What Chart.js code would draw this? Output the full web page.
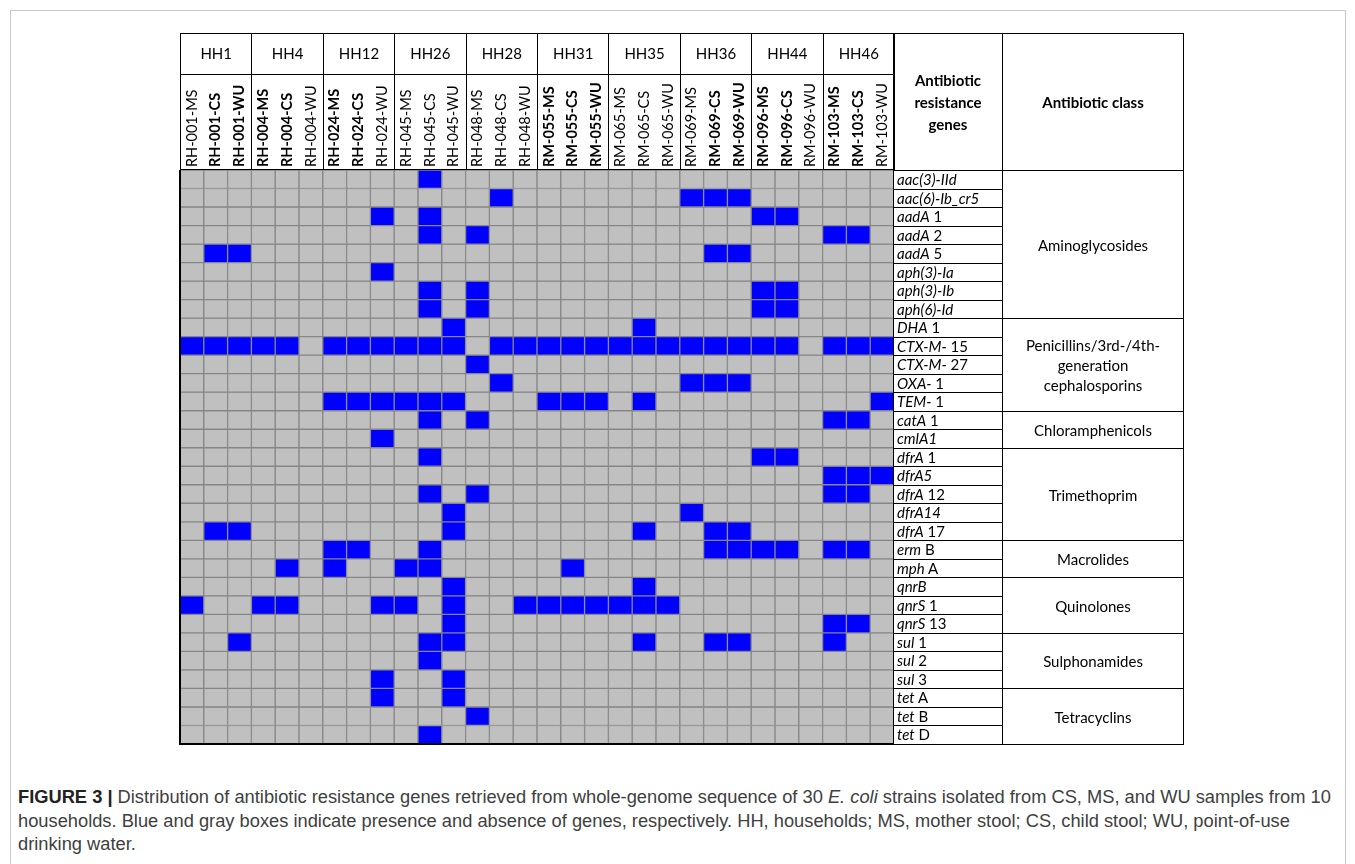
<!DOCTYPE html>
<html>
<head>
<meta charset="utf-8">
<script src="https://cdn.jsdelivr.net/npm/chart.js@4.4.1/dist/chart.umd.min.js"></script>
<style>
  body { margin: 0; background: #fff; }
  #page { position: relative; width: 1355px; height: 864px; overflow: hidden; font-family: Lato, sans-serif; color: #000; }
  #frame { position: absolute; left: 10px; top: 10px; width: 1334px; height: 900px; border: 1px solid #c8c8c8; }
  .box { position: absolute; box-sizing: border-box; border: 1px solid #000; }
  .hh { position: absolute; left: 0; top: 0; right: 0; height: 40px; border-bottom: 1px solid #000; text-align: center; line-height: 39px; font-size: 15px; }
  .gene { font-style: normal; font-size: 15px; padding-left: 3px; white-space: nowrap; overflow: hidden; }
  .gene i { font-style: italic; }
  .cls { display: flex; align-items: center; justify-content: center; text-align: center; font-size: 15px; line-height: 20px; }
  .head { display: flex; align-items: center; justify-content: center; text-align: center; font-weight: bold; font-size: 15px; line-height: 22px; }
  #chartBox { position: absolute; left: 180px; top: 73px; width: 714px; height: 671px; }
  #gridEdge { position: absolute; left: 179px; top: 170px; width: 715px; height: 575px; box-sizing: border-box; border-left: 2px solid #000; border-bottom: 2px solid #000; pointer-events: none; }
  #caption { position: absolute; left: 18px; top: 785px; font-family: "Liberation Sans", Arial, sans-serif; font-size: 18.3px; line-height: 23.5px; color: #404040; white-space: nowrap; }
  #caption b { color: #222; }
</style>
</head>
<body>
<div id="page">
  <div id="frame"></div>
  <div id="chartBox"><canvas id="grid"></canvas></div>
  <div id="gridEdge"></div>
  <div id="caption"><b>FIGURE 3 |</b> Distribution of antibiotic resistance genes retrieved from whole-genome sequence of 30 <i>E. coli</i> strains isolated from CS, MS, and WU samples from 10<br>households. Blue and gray boxes indicate presence and absence of genes, respectively. HH, households; MS, mother stool; CS, child stool; WU, point-of-use<br>drinking water.</div>
</div>
<script>
const households = ['HH1', 'HH4', 'HH12', 'HH26', 'HH28', 'HH31', 'HH35', 'HH36', 'HH44', 'HH46'];

const samples = [
  'RH-001-MS', 'RH-001-CS', 'RH-001-WU', 'RH-004-MS', 'RH-004-CS', 'RH-004-WU',
  'RH-024-MS', 'RH-024-CS', 'RH-024-WU', 'RH-045-MS', 'RH-045-CS', 'RH-045-WU',
  'RH-048-MS', 'RH-048-CS', 'RH-048-WU', 'RM-055-MS', 'RM-055-CS', 'RM-055-WU',
  'RM-065-MS', 'RM-065-CS', 'RM-065-WU', 'RM-069-MS', 'RM-069-CS', 'RM-069-WU',
  'RM-096-MS', 'RM-096-CS', 'RM-096-WU', 'RM-103-MS', 'RM-103-CS', 'RM-103-WU'
];
// 1 = label printed in bold
const sampleBold = [0,1,1, 1,1,0, 1,1,0, 0,0,0, 0,0,0, 1,1,1, 0,0,0, 0,1,1, 1,1,0, 1,1,0];

// gene name: italic part + upright part
const geneItalic = [
  'aac(3)-IId', 'aac(6)-Ib_cr5', 'aadA', 'aadA', 'aadA', 'aph(3)-Ia', 'aph(3)-Ib', 'aph(6)-Id',
  'DHA', 'CTX-M-', 'CTX-M-', 'OXA-', 'TEM-', 'catA', 'cmlA1',
  'dfrA', 'dfrA5', 'dfrA', 'dfrA14', 'dfrA', 'erm', 'mph',
  'qnrB', 'qnrS', 'qnrS', 'sul', 'sul', 'sul', 'tet', 'tet', 'tet'
];
const geneRoman = [
  '', '', ' 1', ' 2', ' 5', '', '', '',
  ' 1', ' 15', ' 27', ' 1', ' 1', ' 1', '',
  ' 1', '', ' 12', '', ' 17', ' B', ' A',
  '', ' 1', ' 13', ' 1', ' 2', ' 3', ' A', ' B', ' D'
];

const classNames = ['Aminoglycosides', 'Penicillins/3rd-/4th-<br>generation<br>cephalosporins', 'Chloramphenicols',
  'Trimethoprim', 'Macrolides', 'Quinolones', 'Sulphonamides', 'Tetracyclins'];
const classRows = [8, 5, 2, 5, 2, 3, 3, 3];

// sample indices (columns) where each gene was found
const present = [
  [10],
  [13, 21, 22, 23],
  [8, 10, 24, 25],
  [10, 12, 27, 28],
  [1, 2, 22, 23],
  [8],
  [10, 12, 24, 25],
  [10, 12, 24, 25],
  [11, 19],
  [0, 1, 2, 3, 4, 6, 7, 8, 9, 10, 11, 13, 14, 15, 16, 17, 18, 19, 20, 21, 22, 23, 24, 25, 27, 28, 29],
  [12],
  [13, 21, 22, 23],
  [6, 7, 8, 9, 10, 11, 15, 16, 17, 19, 29],
  [10, 12, 27, 28],
  [8],
  [10, 24, 25],
  [27, 28, 29],
  [10, 12, 27, 28],
  [11, 21],
  [1, 2, 11, 19, 22, 23],
  [6, 7, 10, 22, 23, 24, 25, 27, 28],
  [4, 6, 9, 10, 16],
  [11, 19],
  [0, 3, 4, 8, 9, 11, 14, 15, 16, 17, 18, 19, 20],
  [11, 27, 28],
  [2, 10, 11, 19, 22, 23, 27],
  [10],
  [8, 11],
  [8, 11],
  [12],
  [10]
];

const BLUE = '#0000ff';
const GRAY = '#c0c0c0';
const LINE = '#868686';

// layout of the table around the grid
const page = document.getElementById('page');
const gridLeft = 180, gridTop = 170, gridW = 714, gridH = 574;
const colW = gridW / samples.length;
const rowH = gridH / geneItalic.length;

function addBox(x, y, w, h, cls, html) {
  const d = document.createElement('div');
  d.className = 'box ' + (cls || '');
  d.style.left = x + 'px'; d.style.top = y + 'px';
  d.style.width = w + 'px'; d.style.height = h + 'px';
  if (html) d.innerHTML = html;
  page.appendChild(d);
  return d;
}

households.forEach((hh, g) => {
  const b = addBox(gridLeft + g * 3 * colW, 33, 3 * colW + 1, gridTop - 33);
  b.innerHTML = '<div class="hh">' + hh + '</div>';
});
addBox(893, 33, 110, gridTop - 33 + 1, 'head', 'Antibiotic<br>resistance<br>genes');
addBox(1002, 33, 182, gridTop - 33 + 1, 'head', 'Antibiotic class');

geneItalic.forEach((g, r) => {
  const b = addBox(893, gridTop + r * rowH, 110, rowH + 1, 'gene');
  b.style.lineHeight = (rowH - 1) + 'px';
  b.innerHTML = '<i>' + g + '</i>' + geneRoman[r];
});

let start = 0;
classNames.forEach((c, k) => {
  addBox(1002, gridTop + start * rowH, 182, classRows[k] * rowH + 1, 'cls', c);
  start += classRows[k];
});

// the presence / absence grid
const datasets = geneItalic.map((g, r) => ({
  label: g + geneRoman[r],
  data: samples.map(() => [r, r + 1]),
  backgroundColor: samples.map((s, c) => present[r].includes(c) ? BLUE : GRAY),
  borderColor: LINE,
  borderWidth: 1,
  borderSkipped: false,
  grouped: false,
  categoryPercentage: 1,
  barPercentage: 1
}));

const tickSize = 14.5;

new Chart(document.getElementById('grid').getContext('2d'), {
  type: 'bar',
  data: { labels: samples, datasets: datasets },
  options: {
    responsive: true,
    maintainAspectRatio: false,
    animation: false,
    layout: { padding: 0 },
    plugins: { legend: { display: false }, tooltip: { enabled: false } },
    scales: {
      x: {
        position: 'top',
        offset: true,
        grid: { display: false, drawTicks: false },
        border: { display: false },
        ticks: {
          autoSkip: false,
          minRotation: 90,
          maxRotation: 90,
          padding: 3,
          labelOffset: tickSize * 1.2, // rotated top labels sit one line-height left of the tick
          color: '#000',
          font: ctx => ({ family: 'Lato', size: tickSize, weight: sampleBold[ctx.index] ? 'bold' : 'normal' })
        },
        afterFit: s => { s.height = 97; s.paddingLeft = 0; s.paddingRight = 0; }
      },
      y: { display: false, reverse: true, min: 0, max: geneItalic.length }
    }
  }
});
</script>
</body>
</html>
